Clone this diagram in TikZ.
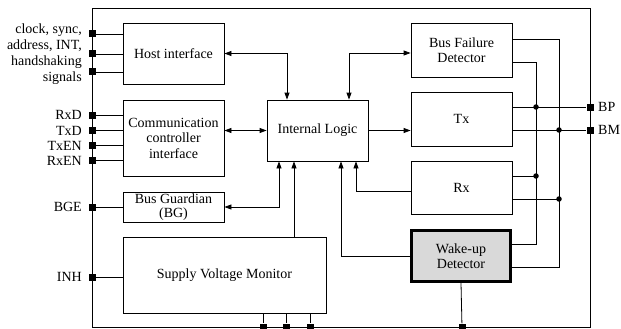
\documentclass[tikz,border=0pt]{standalone}
\usepackage{fontspec}
\setmainfont{Liberation Serif}
\usetikzlibrary{arrows.meta}
\begin{document}
\begin{tikzpicture}[x=1pt,y=-1pt,
  every node/.style={font=\fontsize{14}{15.5}\selectfont},
  box/.style={draw,line width=0.8pt,inner sep=0pt,align=center},
  pinsq/.style={fill=black,minimum size=7pt,inner sep=0pt},
  jdot/.style={circle,fill=black,minimum size=5.5pt,inner sep=0pt},
  lab/.style={anchor=east,inner sep=0pt,align=right},
  wire/.style={line width=0.8pt},
  arr/.style={wire,-{Triangle[length=7pt,width=5pt]}},
  arrb/.style={wire,{Triangle[length=7pt,width=5pt]}-{Triangle[length=7pt,width=5pt]}}]
\useasboundingbox (0,0) rectangle (621,329);
% frame
\draw[wire] (92,8) rectangle (590,327);
% boxes
\node[box,minimum width=101pt,minimum height=61pt] (host) at (173.5,53.5) {Host interface};
\node[box,minimum width=101pt,minimum height=76pt] (comm) at (173.5,138) {Communication\\controller\\interface};
\node[box,minimum width=101pt,minimum height=30pt,font=\fontsize{14}{14}\selectfont] (bg) at (173.5,207) {Bus Guardian\\(BG)};
\node[box,minimum width=203pt,minimum height=76pt] (svm) at (224.5,275) {Supply Voltage Monitor};
\node[box,minimum width=101pt,minimum height=61pt] (il) at (317.5,130.5) {Internal Logic};
\node[box,minimum width=101pt,minimum height=54pt] (bfd) at (461.5,50) {Bus Failure\\Detector};
\node[box,minimum width=101pt,minimum height=54pt] (tx) at (461.5,119) {Tx};
\node[box,minimum width=101pt,minimum height=53pt] (rx) at (461.5,187.5) {Rx};
\node[box,line width=3pt,fill=black!15,minimum width=99pt,minimum height=51pt] (wu) at (461,256) {Wake-up\\Detector};
% left pins
\node[pinsq] (p1) at (92,34) {};
\node[pinsq] (p2) at (92,54) {};
\node[pinsq] (p3) at (92,72) {};
\node[pinsq] (p4) at (92,115) {};
\node[pinsq] (p5) at (92,130.5) {};
\node[pinsq] (p6) at (92,145.5) {};
\node[pinsq] (p7) at (92,160.5) {};
\node[pinsq] (p8) at (92,207) {};
\node[pinsq] (p9) at (92,277) {};
% bottom pins
\node[pinsq] (b1) at (263,327) {};
\node[pinsq] (b2) at (286,327) {};
\node[pinsq] (b3) at (310,327) {};
\node[pinsq] (b4) at (462,327) {};
% right pins
\node[pinsq] (bp) at (590,107) {};
\node[pinsq] (bm) at (590,130) {};
% labels
\node[lab,font=\fontsize{14}{16}\selectfont] (l1) at (82,54) {clock, sync,\\address, INT,\\handshaking\\signals};
\node[lab] (l4) at (82,115) {RxD};
\node[lab] (l5) at (82,130.5) {TxD};
\node[lab] (l6) at (82,145.5) {TxEN};
\node[lab] (l7) at (82,160.5) {RxEN};
\node[lab] (l8) at (82,207) {BGE};
\node[lab] (l9) at (82,277) {INH};
\node[anchor=west,inner sep=0pt] (lbp) at (598,107) {BP};
\node[anchor=west,inner sep=0pt] (lbm) at (598,130) {BM};
% left wires
\foreach \p in {p1,p2,p3} \draw[wire] (\p) -- (\p -| host.west);
\foreach \p in {p4,p5,p6,p7} \draw[wire] (\p) -- (\p -| comm.west);
\draw[wire] (p8) -- (p8 -| bg.west);
\draw[wire] (p9) -- (p9 -| svm.west);
\foreach \p/\x in {b1/263,b2/286,b3/310} \draw[wire] (\x,313) -- (\p);
% internal logic connections
\draw[arrb] (host.east) -| ([xshift=-30.5pt]il.north);
\draw[arrb] ([yshift=-3pt]bfd.west) -| ([xshift=31.5pt]il.north);
\draw[arrb] (il.west -| comm.east) -- (il.west);
\draw[arr] (il.east) -- (il.east -| tx.west);
\draw[arrb] (bg.east) -| ([xshift=-38.5pt]il.south);
\draw[arr] ([xshift=-23.5pt]il.south |- svm.north) -- ([xshift=-23.5pt]il.south);
\draw[arr] (wu.west) -| ([xshift=23.5pt]il.south);
\draw[arr] ([yshift=-4pt]rx.west) -| ([xshift=38.5pt]il.south);
% right side wiring
\draw[wire] (tx.east |- bp) -- (bp);
\draw[wire] (tx.east |- bm) -- (bm);
\draw[wire] ([yshift=-12pt]bfd.east) -- (536,62) -- (536,244) -- ([yshift=12pt]wu.east);
\draw[wire] ([yshift=11pt]bfd.east) -- (559,39) -- (559,267) -- ([yshift=-11pt]wu.east);
\draw[wire] ([yshift=11.5pt]rx.east) -- (536,176);
\draw[wire] ([yshift=-11.5pt]rx.east) -- (559,199);
\node[jdot] (d1) at (536,107) {};
\node[jdot] (d2) at (559,130) {};
\node[jdot] (d3) at (536,176) {};
\node[jdot] (d4) at (559,199) {};
\draw[wire] (wu.south) -- (b4);
\end{tikzpicture}
\end{document}
